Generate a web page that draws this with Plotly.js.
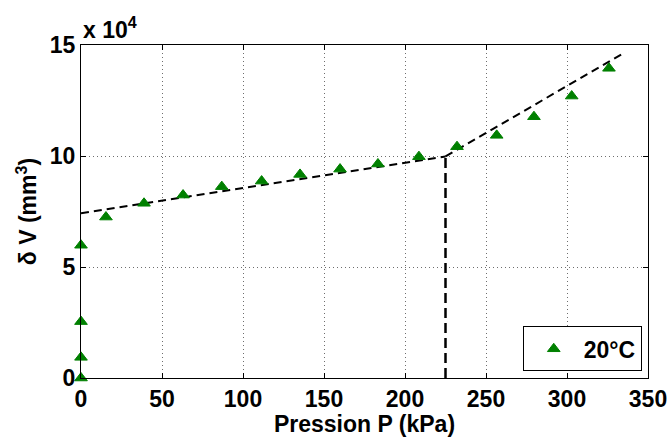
<!DOCTYPE html>
<html>
<head>
<meta charset="utf-8">
<script src="https://cdn.plot.ly/plotly-3.0.1.min.js"></script>
<style>html,body{margin:0;padding:0;background:#fff;}#chart{width:670px;height:437px;}</style>
</head>
<body>
<div id="chart"></div>
<script>
// Measured data: pressure (kPa) and volume change (mm^3)
const pressure = [0, 0, 0, 0, 15.4, 38.9, 63.0, 86.9, 111.5, 135.2, 159.9, 183.3, 208.6, 232.1, 256.6, 279.6, 302.9, 325.9];
const deltaV = [0, 9300, 25400, 59800, 72500, 78700, 82400, 86200, 88700, 91700, 94100, 96400, 99700, 104200, 109300, 117700, 127000, 139500];

// Fitted lines (dashed)
const fit1X = [0, 225];
const fit1Y = [74200, 99800];
const fit2X = [225, 333.7];
const fit2Y = [99800, 145800];
const vertX = [225, 225];
const vertY = [0, 99800];

const seriesName = "20°C";
const xTitle = "Pression P (kPa)";
const yTitle = "δ V (mm<sup>3</sup>)";
const xTicks = [0, 50, 100, 150, 200, 250, 300, 350];
const yTickVals = [0, 50000, 100000, 150000];
const yTickText = ["0", "5", "10", "15"];

const FONT = {family: "Liberation Sans, Arial, sans-serif", size: 23, color: "#000", weight: "bold"};
const dashStyle = {color: "#000", width: 2, dash: "8px,5px"};

const traces = [
  {x: fit1X, y: fit1Y, mode: "lines", line: dashStyle, showlegend: false, hoverinfo: "skip"},
  {x: fit2X, y: fit2Y, mode: "lines", line: dashStyle, showlegend: false, hoverinfo: "skip"},
  {x: vertX, y: vertY, mode: "lines", line: {color: "#000", width: 2.5, dash: "10px,5px"}, showlegend: false, hoverinfo: "skip"},
  {x: pressure, y: deltaV, mode: "markers", name: seriesName, cliponaxis: false,
   marker: {symbol: "triangle-up", size: 11, color: "#008000", line: {width: 1, color: "#008000"}}}
];

const axisCommon = {
  showline: true, linecolor: "#000", linewidth: 1, mirror: "ticks",
  ticks: "inside", ticklen: 5, tickcolor: "#000",
  showgrid: true, gridcolor: "#6e6e6e", griddash: "1px,3px", gridwidth: 1,
  zeroline: false, tickfont: FONT
};

const layout = {
  width: 670, height: 437,
  margin: {l: 81, r: 22, t: 45, b: 59},
  paper_bgcolor: "#fff", plot_bgcolor: "#fff",
  font: FONT,
  xaxis: Object.assign({}, axisCommon, {
    range: [0, 350], tickvals: xTicks, ticktext: xTicks.map(String),
    title: {text: xTitle, font: FONT, standoff: 0}
  }),
  yaxis: Object.assign({}, axisCommon, {
    range: [0, 150000], tickvals: yTickVals, ticktext: yTickText,
    title: {text: yTitle, font: FONT, standoff: 6}
  }),
  showlegend: true,
  legend: {
    x: 0.989, xanchor: "right", y: 0.02, yanchor: "bottom",
    bgcolor: "#fff", bordercolor: "#000", borderwidth: 1,
    font: FONT, itemwidth: 50
  },
  annotations: [
    {xref: "paper", yref: "paper", x: 0, y: 1, xanchor: "left", yanchor: "bottom",
     text: "x 10<sup>4</sup>", showarrow: false, font: FONT}
  ]
};

Plotly.newPlot("chart", traces, layout, {displayModeBar: false, staticPlot: true});
</script>
</body>
</html>
